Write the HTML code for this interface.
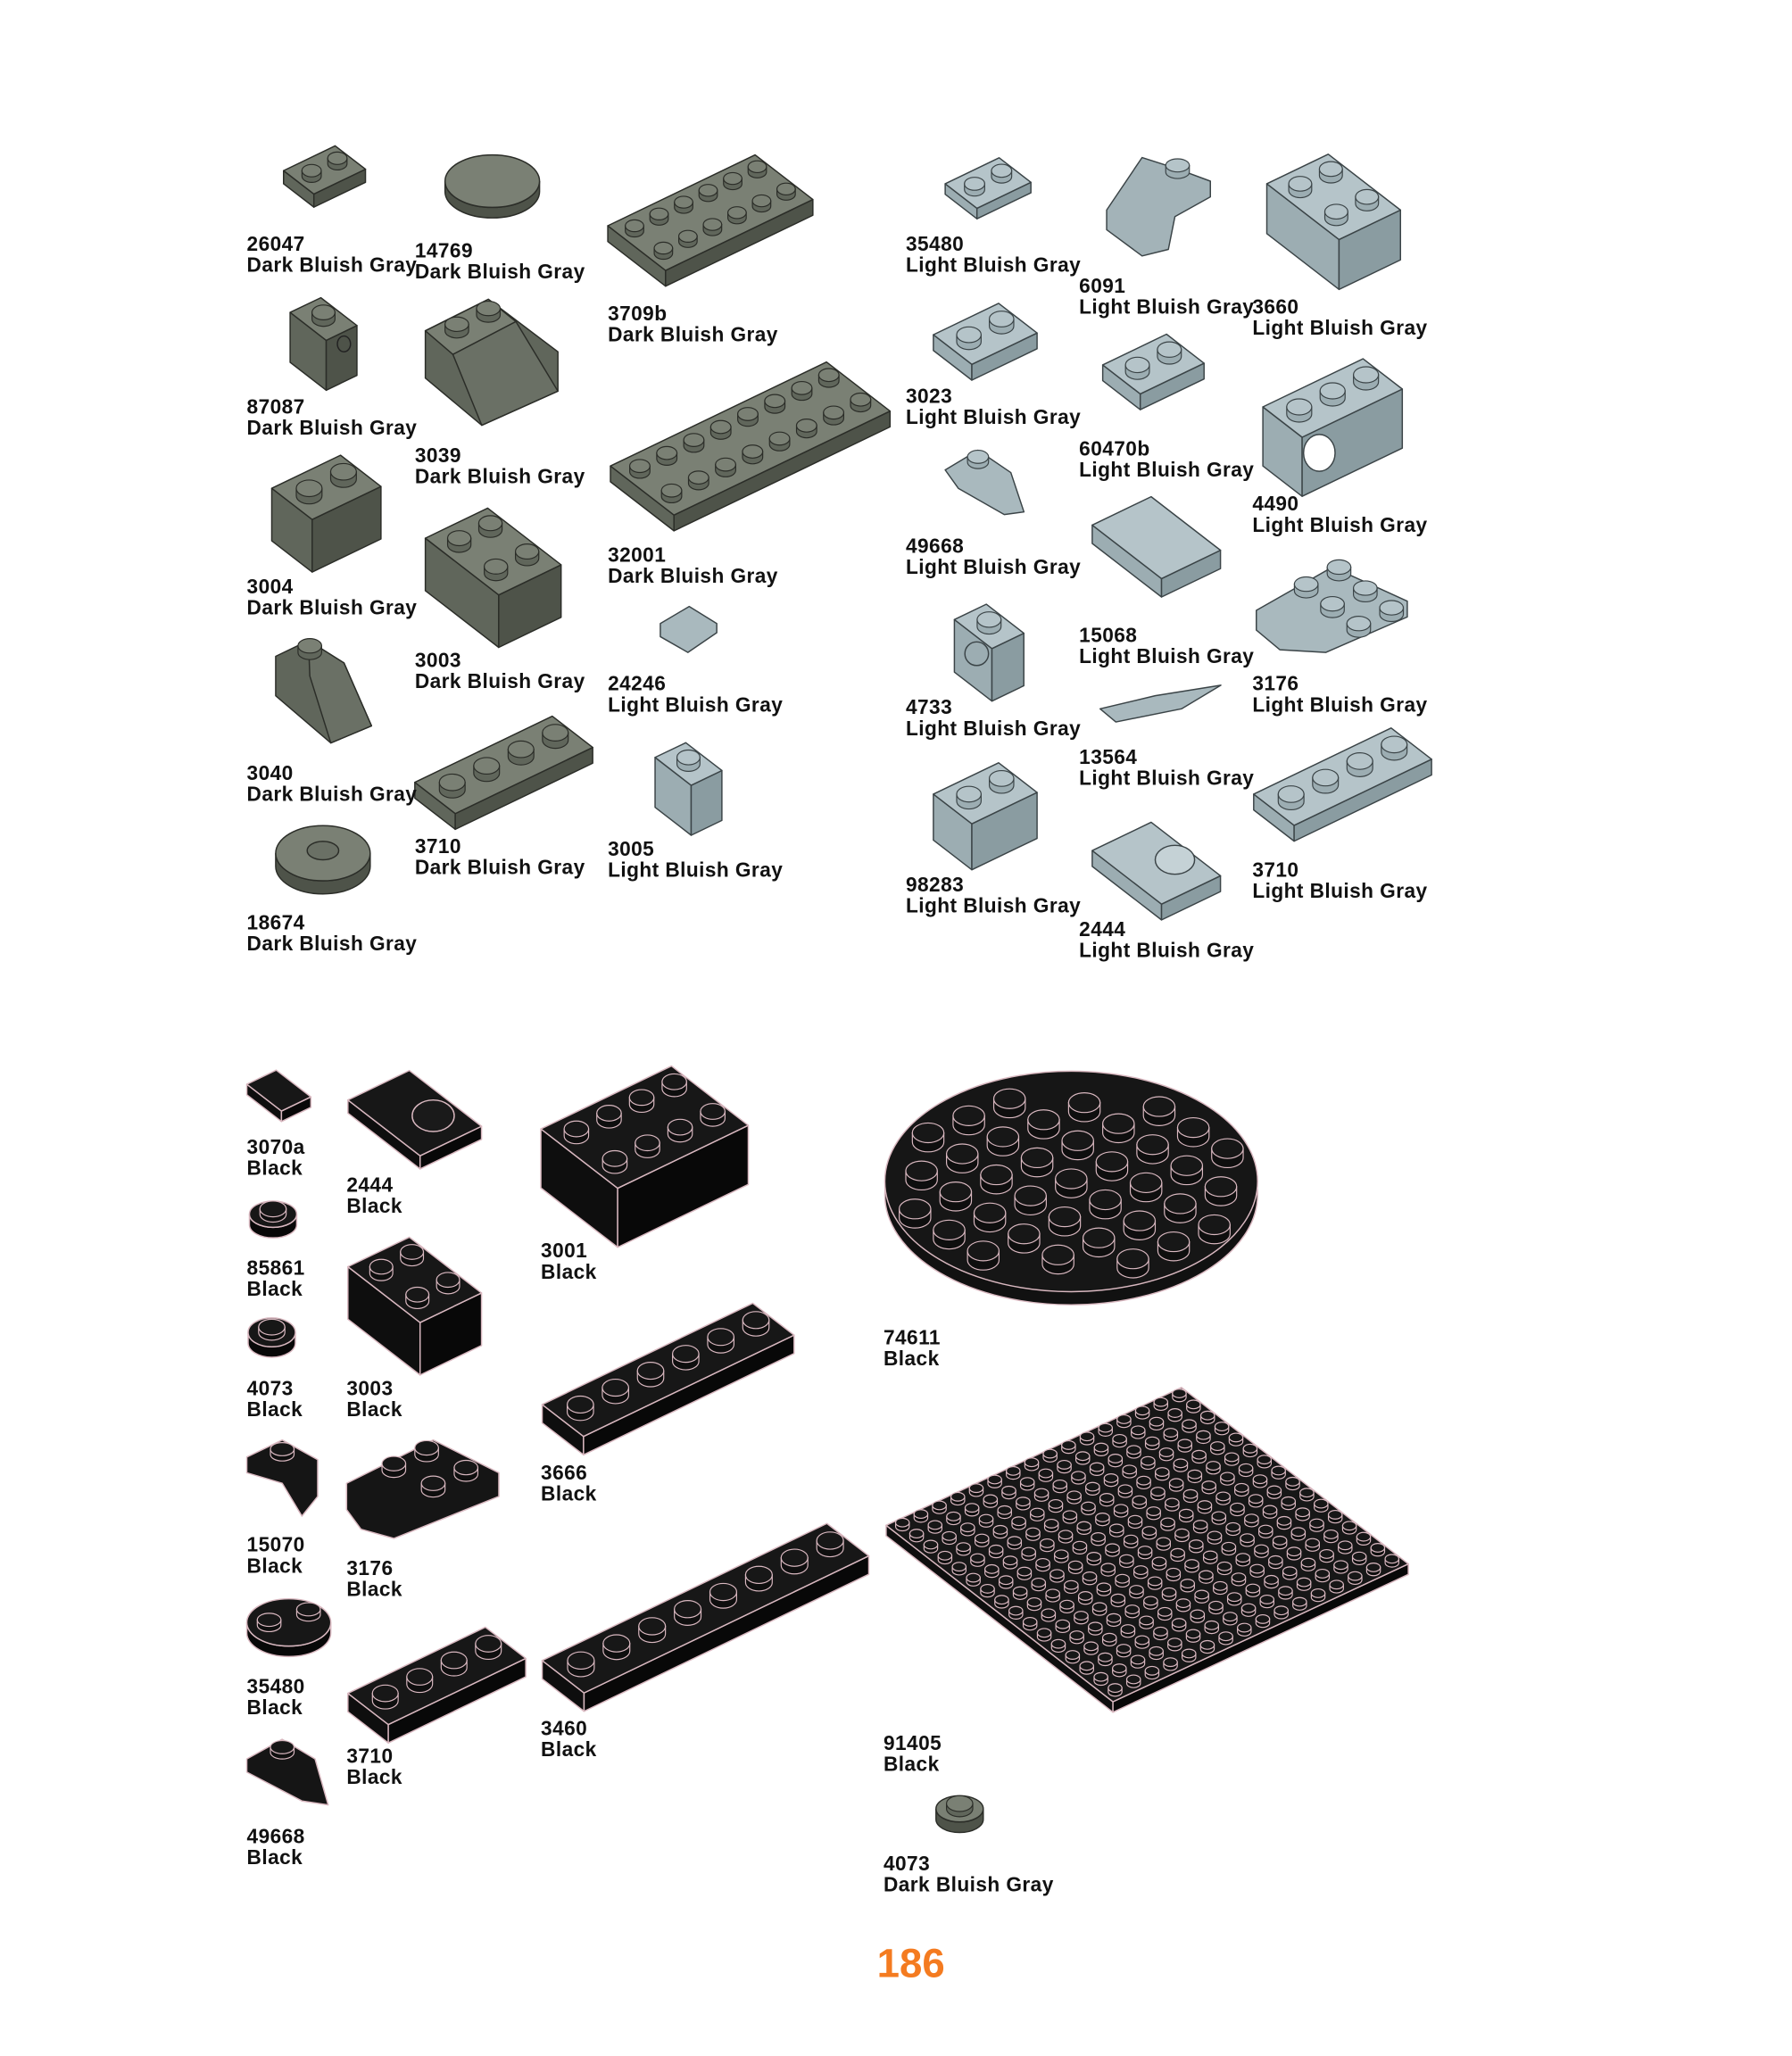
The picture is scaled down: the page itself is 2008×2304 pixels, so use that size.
<!DOCTYPE html>
<html><head><meta charset="utf-8">
<style>
html,body{margin:0;padding:0;background:#fff;}
#wrap{position:relative;width:2008px;height:2304px;overflow:hidden;background:#fff;}
#stage{position:absolute;left:0;top:0;width:1365px;height:1566px;transform:scale(1.471);transform-origin:0 0;}
#svg{position:absolute;left:0;top:0;}
.l{position:absolute;font-family:"Liberation Sans",sans-serif;font-weight:bold;font-size:15.4px;letter-spacing:0.3px;line-height:16px;color:#111;white-space:nowrap;}
.pg{position:absolute;left:668px;top:1478px;font-family:"Liberation Sans",sans-serif;font-weight:bold;font-size:31px;color:#f47b20;}
</style></head><body>
<div id="wrap"><div id="stage">
<svg id="svg" width="1365" height="1566" viewBox="0 0 1365 1566" xmlns="http://www.w3.org/2000/svg"></svg>
<div class="l" style="left:188px;top:179px">26047<br>Dark Bluish Gray</div>
<div class="l" style="left:316px;top:184px">14769<br>Dark Bluish Gray</div>
<div class="l" style="left:463px;top:232px">3709b<br>Dark Bluish Gray</div>
<div class="l" style="left:188px;top:303px">87087<br>Dark Bluish Gray</div>
<div class="l" style="left:316px;top:340px">3039<br>Dark Bluish Gray</div>
<div class="l" style="left:463px;top:416px">32001<br>Dark Bluish Gray</div>
<div class="l" style="left:188px;top:440px">3004<br>Dark Bluish Gray</div>
<div class="l" style="left:316px;top:496px">3003<br>Dark Bluish Gray</div>
<div class="l" style="left:463px;top:514px">24246<br>Light Bluish Gray</div>
<div class="l" style="left:188px;top:582px">3040<br>Dark Bluish Gray</div>
<div class="l" style="left:316px;top:638px">3710<br>Dark Bluish Gray</div>
<div class="l" style="left:463px;top:640px">3005<br>Light Bluish Gray</div>
<div class="l" style="left:188px;top:696px">18674<br>Dark Bluish Gray</div>
<div class="l" style="left:690px;top:179px">35480<br>Light Bluish Gray</div>
<div class="l" style="left:822px;top:211px">6091<br>Light Bluish Gray</div>
<div class="l" style="left:954px;top:227px">3660<br>Light Bluish Gray</div>
<div class="l" style="left:690px;top:295px">3023<br>Light Bluish Gray</div>
<div class="l" style="left:822px;top:335px">60470b<br>Light Bluish Gray</div>
<div class="l" style="left:954px;top:377px">4490<br>Light Bluish Gray</div>
<div class="l" style="left:690px;top:409px">49668<br>Light Bluish Gray</div>
<div class="l" style="left:822px;top:477px">15068<br>Light Bluish Gray</div>
<div class="l" style="left:954px;top:514px">3176<br>Light Bluish Gray</div>
<div class="l" style="left:690px;top:532px">4733<br>Light Bluish Gray</div>
<div class="l" style="left:822px;top:570px">13564<br>Light Bluish Gray</div>
<div class="l" style="left:954px;top:656px">3710<br>Light Bluish Gray</div>
<div class="l" style="left:690px;top:667px">98283<br>Light Bluish Gray</div>
<div class="l" style="left:822px;top:701px">2444<br>Light Bluish Gray</div>
<div class="l" style="left:188px;top:867px">3070a<br>Black</div>
<div class="l" style="left:264px;top:896px">2444<br>Black</div>
<div class="l" style="left:412px;top:946px">3001<br>Black</div>
<div class="l" style="left:188px;top:959px">85861<br>Black</div>
<div class="l" style="left:264px;top:1051px">3003<br>Black</div>
<div class="l" style="left:188px;top:1051px">4073<br>Black</div>
<div class="l" style="left:412px;top:1115px">3666<br>Black</div>
<div class="l" style="left:188px;top:1170px">15070<br>Black</div>
<div class="l" style="left:264px;top:1188px">3176<br>Black</div>
<div class="l" style="left:188px;top:1278px">35480<br>Black</div>
<div class="l" style="left:412px;top:1310px">3460<br>Black</div>
<div class="l" style="left:264px;top:1331px">3710<br>Black</div>
<div class="l" style="left:188px;top:1392px">49668<br>Black</div>
<div class="l" style="left:673px;top:1012px">74611<br>Black</div>
<div class="l" style="left:673px;top:1321px">91405<br>Black</div>
<div class="l" style="left:673px;top:1413px">4073<br>Dark Bluish Gray</div>
<div class="pg">186</div>
</div></div>
<script>
var S=document.getElementById('svg'),out='';
var C={D:['#7a8074','#60665b','#4e5349','#2b2d28'],L:['#b5c4c9','#9cadb2','#8a9ca1','#3b4447'],B:['#171717','#0e0e0e','#080808','#d9b8c0']};
function poly(p,f,s,w){out+='<polygon points="'+p.map(function(q){return q[0].toFixed(1)+','+q[1].toFixed(1)}).join(' ')+'" fill="'+f+'" stroke="'+s+'" stroke-width="'+(w||1)+'" stroke-linejoin="round"/>';}
function ell(cx,cy,rx,ry,f,s,w){out+='<ellipse cx="'+cx+'" cy="'+cy+'" rx="'+rx+'" ry="'+ry+'" fill="'+f+'" stroke="'+s+'" stroke-width="'+(w||1)+'"/>';}
function stud(cx,cy,rx,ry,h,c){
  out+='<path d="M'+(cx-rx)+','+cy+' A'+rx+','+ry+' 0 0 0 '+(cx+rx)+','+cy+' L'+(cx+rx)+','+(cy-h)+' L'+(cx-rx)+','+(cy-h)+'Z" fill="'+c[1]+'" stroke="'+c[3]+'" stroke-width="0.8"/>';
  ell(cx,cy-h,rx,ry,c[0],c[3],0.8);
}
function box(ox,oy,a,b,k,h,col,studs){
  var c=C[col],ux=18.7*k,uy=-9*k,vx=22*k,vy=17*k;
  var P0=[ox,oy],P1=[ox+a*ux,oy+a*uy],P2=[P1[0]+b*vx,P1[1]+b*vy],P3=[ox+b*vx,oy+b*vy];
  poly([P0,P3,[P3[0],P3[1]+h],[P0[0],P0[1]+h]],c[1],c[3]);
  poly([P3,P2,[P2[0],P2[1]+h],[P3[0],P3[1]+h]],c[2],c[3]);
  poly([P0,P1,P2,P3],c[0],c[3]);
  if(studs!==false){
    for(var i=0;i<a;i++)for(var j=0;j<b;j++){
      var cx=ox+(i+.5)*ux+(j+.5)*vx,cy=oy+(i+.5)*uy+(j+.5)*vy;
      stud(cx,cy,7*k,4.5*k,4*k,c);
    }
  }
}
function round(cx,cy,rx,ry,h,col){var c=C[col];
  out+='<path d="M'+(cx-rx)+','+cy+' A'+rx+','+ry+' 0 0 0 '+(cx+rx)+','+cy+' L'+(cx+rx)+','+(cy+h)+' A'+rx+','+ry+' 0 0 1 '+(cx-rx)+','+(cy+h)+'Z" fill="'+c[2]+'" stroke="'+c[3]+'"/>';
  ell(cx,cy,rx,ry,c[0],c[3]);}
box(216,130,2,1,1.05,10,'D');
round(375,138,36,20,8,'D');
box(463,172,6,2,1,12,'D');
box(221,238,1,1,1.25,38,'D');ell(262,262,5,6,'#4e5349','#222');
poly([[324,252],[372,228],[425,268],[425,298],[367,324],[324,288]],'#60665b','#2b2d28');
poly([[324,252],[372,228],[393,245],[345,270]],'#7a8074','#2b2d28');
poly([[345,270],[393,245],[425,298],[367,324]],'#6a7065','#2b2d28');
stud(348,252,9,5.5,5,C.D);stud(372,240,9,5.5,5,C.D);
box(207,372,2,1,1.4,40,'D');
box(324,410,2,2,1.27,40,'D');
poly([[210,500],[235,488],[262,505],[283,553],[252,566],[210,530]],'#60665b','#2b2d28');
poly([[235,488],[262,505],[283,553],[252,566],[236,515]],'#6a7065','#2b2d28');
stud(236,497,9,5.5,5,C.D);
box(316,596,4,1,1.4,12,'D');
round(246,650,36,21,10,'D');ell(246,648,12,7,'#6a7065','#2b2d28');
box(465,355,8,2,1.1,12,'D');
poly([[503,475],[525,462],[546,475],[546,482],[524,497],[503,485]],'#a9b9be','#3b4447');
box(499,577,1,1,1.25,38,'L');
box(720,140,2,1,1.1,8,'L');
poly([[843,160],[870,120],[895,128],[922,138],[922,150],[895,165],[890,190],[870,195],[843,175]],'#a3b3b8','#3b4447');
stud(897,131,9,5,5,C.L);
box(965,140,2,2,1.25,38,'L');
box(711,255,2,1,1.33,12,'L');
box(840,278,2,1,1.3,12,'L');
box(962,310,3,1,1.36,45,'L');ell(1005,345,12,14,'#fff','#3b4447');
poly([[720,358],[745,343],[770,360],[780,390],[765,392],[730,372]],'#a9b9be','#3b4447');stud(745,352,8,5,4,C.L);
box(832,400,2,2,1.2,14,'L',false);
box(727,472,1,1,1.3,40,'L');ell(744,498,9,9,'#9cadb2','#3b4447');
poly([[957,465],[1015,432],[1072,458],[1072,470],[1010,497],[975,495],[957,480]],'#a9b9be','#3b4447');
[[995,445],[1020,432],[1015,460],[1040,448],[1035,475],[1060,463]].forEach(function(p){stud(p[0],p[1]+5,9,5.5,5,C.L)});
poly([[838,540],[880,530],[930,522],[900,540],[850,550]],'#a9b9be','#3b4447');
box(711,605,2,1,1.33,35,'L');
box(955,605,4,1,1.4,12,'L');
box(832,648,2,2,1.2,12,'L',false);ell(895,655,15,11,'#c5d2d6','#3b4447');
box(188,826,1,1,1.2,8,'B',false);
box(265,838,2,2,1.25,10,'B',false);ell(330,850,16,12,'#1a1a1a','#d9b8c0');
box(412,860,4,2,1.33,45,'B');
round(208,925,18,10,8,'B');stud(208,925,10,6,4,C.B);
box(265,965,2,2,1.25,40,'B');
round(207,1015,18,11,8,'B');stud(207,1015,10,6,4,C.B);
box(413,1070,6,1,1.43,14,'B');
poly([[188,1110],[215,1097],[242,1112],[242,1140],[230,1155],[215,1130],[188,1122]],'#151515','#d9b8c0');stud(215,1108,9,5,4,C.B);
poly([[264,1130],[330,1097],[380,1122],[380,1140],[300,1172],[275,1165],[264,1150]],'#151515','#d9b8c0');
[[300,1120],[325,1108],[330,1135],[355,1123]].forEach(function(p){stud(p[0],p[1],9,5.5,5,C.B)});
round(220,1236,32,18,8,'B');stud(205,1238,9,5,4,C.B);stud(235,1230,9,5,4,C.B);
box(265,1290,4,1,1.4,14,'B');
box(413,1265,8,1,1.45,14,'B');
poly([[188,1340],[215,1325],[240,1340],[250,1375],[230,1372],[188,1350]],'#151515','#d9b8c0');stud(215,1335,9,5,4,C.B);
out+='<ellipse cx="816" cy="910" rx="142" ry="84" fill="#111" stroke="#d9b8c0"/>';
ell(816,900,142,84,'#161616','#d9b8c0');
var st=[];
for(var i=-3;i<=3;i++)for(var j=-3;j<=3;j++){
  if(i*i+j*j>11.5)continue;
  st.push([816+i*31+j*26,905-i*13+j*16]);
}
st.sort(function(a,b){return a[1]-b[1]});
st.forEach(function(p){stud(p[0],p[1],12,7.5,7,C.B)});
(function(){var ox=675,oy=1162,ux=14.06,uy=-6.56,vx=10.8,vy=8.4,h=8,c=C.B;
var P1=[ox+16*ux,oy+16*uy],P2=[P1[0]+16*vx,P1[1]+16*vy],P3=[ox+16*vx,oy+16*vy];
poly([[ox,oy],P3,[P3[0],P3[1]+h],[ox,oy+h]],c[1],c[3]);
poly([P3,P2,[P2[0],P2[1]+h],[P3[0],P3[1]+h]],c[2],c[3]);
poly([[ox,oy],P1,P2,P3],c[0],c[3]);
for(var i=0;i<16;i++)for(var j=0;j<16;j++){stud(ox+(i+.5)*ux+(j+.5)*vx,oy+(i+.5)*uy+(j+.5)*vy,5.2,3.3,3,c);}
})();
round(731,1378,18,10,8,'D');stud(731,1378,10,6,4,C.D);
S.innerHTML=out;
</script>
</body></html>
